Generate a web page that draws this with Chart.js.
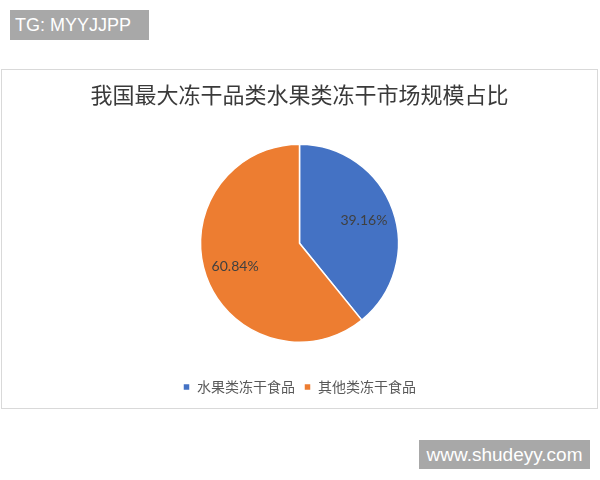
<!DOCTYPE html>
<html>
<head>
<meta charset="utf-8">
<script src="https://cdn.jsdelivr.net/npm/chart.js@4/dist/chart.umd.min.js"></script>
<style>
    html, body { margin: 0; padding: 0; background: #fff; }
    body { width: 600px; height: 480px; position: relative; overflow: hidden; }
    .tag {
        position: absolute; left: 10px; top: 10px; width: 139px; height: 30px;
        background: #a8a8a8; color: #fff; font: 18px "Liberation Sans", Arial, sans-serif;
        line-height: 30px; padding-left: 5px; box-sizing: border-box;
    }
    .frame {
        position: absolute; left: 1px; top: 69px; width: 597px; height: 340px;
        border: 1px solid #d9d9d9; box-sizing: border-box;
    }
    .frame canvas { display: block; }
    .site {
        position: absolute; left: 419px; top: 440px; width: 171px; height: 29px;
        background: #a8a8a8; color: #fff; font: 19px "Liberation Sans", Arial, sans-serif;
        line-height: 29px; text-align: center;
    }
</style>
</head>
<body>
<div class="tag">TG: MYYJJPP</div>
<div class="frame"><canvas id="pieChart" width="595" height="338"></canvas></div>
<div class="site">www.shudeyy.com</div>
<script>
// Chart data
const categories = ['水果类冻干食品', '其他类冻干食品'];
const shares = [39.16, 60.84];
const sliceColors = ['#4472C4', '#ED7D31'];

// draws the percentage inside each slice
const sliceLabels = {
    id: 'sliceLabels',
    afterDatasetsDraw(chart) {
        const ctx = chart.ctx;
        const meta = chart.getDatasetMeta(0);
        ctx.save();
        ctx.font = '14px Lato, "Open Sans", sans-serif';
        ctx.fillStyle = '#404040';
        ctx.textAlign = 'center';
        ctx.textBaseline = 'middle';
        meta.data.forEach((arc, i) => {
            const { x, y, startAngle, endAngle, outerRadius } = arc.getProps(['x', 'y', 'startAngle', 'endAngle', 'outerRadius'], true);
            const mid = (startAngle + endAngle) / 2;
            const r = outerRadius * 0.69;
            ctx.fillText(shares[i].toFixed(2) + '%', x + Math.cos(mid) * r, y + Math.sin(mid) * r);
        });
        ctx.restore();
    }
};

new Chart(document.getElementById('pieChart'), {
    type: 'pie',
    data: {
        labels: categories,
        datasets: [{
            data: shares,
            backgroundColor: sliceColors,
            borderColor: '#ffffff',
            borderWidth: 1.5
        }]
    },
    options: {
        responsive: false,
        animation: false,
        radius: 99,
        layout: { padding: { top: 0, bottom: 4, left: 0, right: 0 } },
        plugins: {
            title: {
                display: true,
                text: '我国最大冻干品类水果类冻干市场规模占比',
                color: '#3a3a3a',
                font: { family: '"Noto Sans CJK SC", sans-serif', size: 22, weight: 'normal' },
                padding: { top: 11, bottom: 8 }
            },
            legend: {
                position: 'bottom',
                labels: {
                    boxWidth: 7,
                    boxHeight: 7,
                    padding: 9,
                    color: '#595959',
                    font: { family: '"Noto Sans CJK SC", sans-serif', size: 14 }
                }
            },
            tooltip: { enabled: false }
        }
    },
    plugins: [sliceLabels]
});
</script>
</body>
</html>
